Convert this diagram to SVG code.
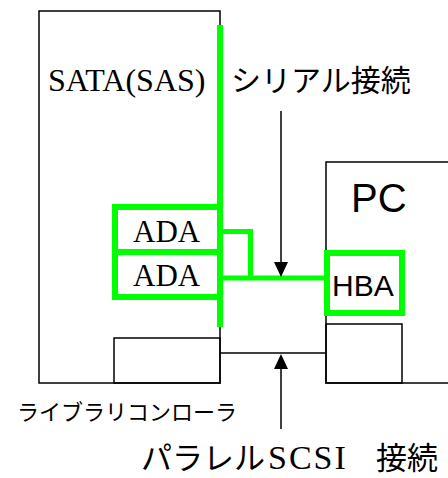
<svg xmlns="http://www.w3.org/2000/svg" width="448" height="478" viewBox="0 0 448 478">
<style>
.blk{fill:none;stroke:#000;stroke-width:1.5}
.grn{fill:none;stroke:#00ff00;stroke-width:6}
.gline{fill:none;stroke:#00ff00;stroke-width:5}
.serif{font-family:"Liberation Serif","Times New Roman",serif;fill:#000}
.sans{font-family:"Liberation Sans",Arial,sans-serif;fill:#000}
.jp{font-family:"Noto Sans CJK JP","Noto Sans",sans-serif;fill:#000}
</style>
<rect width="448" height="478" fill="#fff"/>
<g id="library">
<rect class="blk" x="39" y="11" width="181" height="372"/>
<text class="serif" x="48" y="91" font-size="32">SATA(SAS)</text>
</g>
<g id="library-controller">
<rect class="blk" x="114" y="338" width="106" height="45"/>
<text class="jp" x="17" y="420" font-size="22">ライブラリコンローラ</text>
</g>
<g id="pc">
<polyline class="blk" points="448,162 326,162 326,383 448,383"/>
<text class="sans" x="351" y="212" font-size="40">PC</text>
</g>
<g id="pc-scsi-card">
<rect class="blk" x="326" y="324" width="76" height="59"/>
</g>
<g id="ada1">
<rect class="grn" x="115" y="207" width="105" height="45"/>
<text class="serif" x="133" y="242" font-size="31">ADA</text>
</g>
<g id="ada2">
<rect class="grn" x="115" y="252" width="105" height="45"/>
<text class="serif" x="133" y="286" font-size="31">ADA</text>
</g>
<g id="hba">
<rect class="grn" x="327" y="253" width="75" height="60"/>
<text class="sans" x="332" y="296" font-size="30">HBA</text>
</g>
<g id="connectors">
<line class="grn" x1="220" y1="25" x2="220" y2="327"/>
<path class="gline" d="M220 231.5 H250.5 V278"/>
<line class="gline" x1="220" y1="278" x2="327" y2="278"/>
<line class="blk" x1="220" y1="353" x2="326" y2="353"/>
<line class="blk" x1="281" y1="111" x2="281" y2="264"/>
<polygon points="274,262 288,262 281,277" fill="#000"/>
<line class="blk" x1="281" y1="429" x2="281" y2="366"/>
<polygon points="274,369 288,369 281,354" fill="#000"/>
</g>
<g id="labels">
<text class="jp" x="141" y="469" font-size="31">パラレル<tspan class="serif" x="268" font-size="34" letter-spacing="2">SCSI</tspan><tspan x="376">接続</tspan></text>
<text class="jp" x="231" y="91" font-size="30">シリアル接続</text>
</g>
</svg>
